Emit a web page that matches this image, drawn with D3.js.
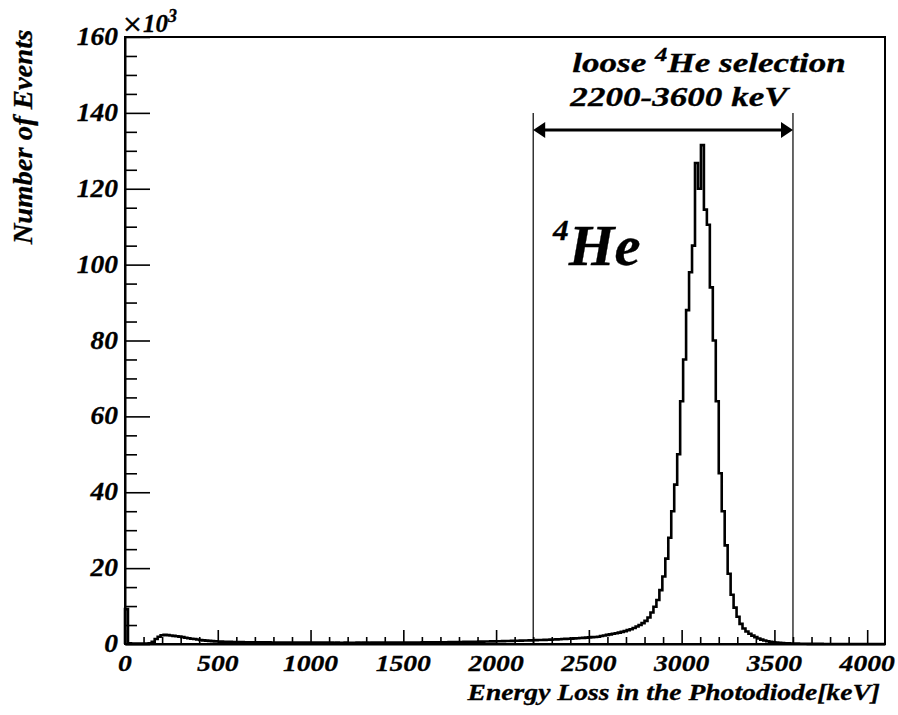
<!DOCTYPE html>
<html>
<head>
<meta charset="utf-8">
<script src="https://cdn.jsdelivr.net/npm/d3@7"></script>
<style>
  html, body { margin: 0; padding: 0; background: #fff; }
  svg text {
    font-family: "Liberation Serif", "Times New Roman", serif;
    font-weight: bold;
    font-style: italic;
    fill: #000;
    stroke: #000;
    stroke-width: 0.3px;
  }
  svg text tspan.times-sign {
    font-family: "DejaVu Serif", serif;
    font-style: normal;
    font-weight: normal;
  }
</style>
</head>
<body>
<svg id="chart" width="898" height="715"></svg>
<script>
// ---- data -------------------------------------------------------------
const binWidth = 16;                 // keV per histogram bin
const energyRange = [0, 4096];       // keV
const countRange = [0, 160];         // thousands of events

// events per bin (x10^3), bins of 16 keV starting at 0 keV
const counts = [
  9.2, 0.2, 0.1, 0.1, 0.1, 0.1, 0.1, 0.1, 0.2, 0.6, 1.3, 1.9, 2.3, 2.4, 2.35, 2.25,
  2.15, 2.05, 1.95, 1.8, 1.65, 1.5, 1.4, 1.3, 1.2, 1.05, 0.95, 0.88, 0.82, 0.76, 0.7, 0.66,
  0.63, 0.6, 0.58, 0.56, 0.54, 0.52, 0.5, 0.49, 0.48, 0.47, 0.46, 0.45, 0.44, 0.43, 0.43, 0.42,
  0.42, 0.41, 0.41, 0.40, 0.40, 0.39, 0.39, 0.38, 0.38, 0.38, 0.37, 0.37, 0.37, 0.36, 0.36, 0.36,
  0.36, 0.35, 0.36, 0.35, 0.35, 0.35, 0.34, 0.35, 0.34, 0.34, 0.35, 0.34, 0.34, 0.34, 0.35, 0.34,
  0.35, 0.35, 0.34, 0.35, 0.36, 0.35, 0.36, 0.36, 0.37, 0.36, 0.37, 0.37, 0.38, 0.38, 0.38, 0.39,
  0.39, 0.40, 0.40, 0.41, 0.42, 0.42, 0.43, 0.44, 0.44, 0.45, 0.46, 0.47, 0.48, 0.49, 0.50, 0.51,
  0.52, 0.53, 0.55, 0.56, 0.57, 0.59, 0.60, 0.62, 0.63, 0.65, 0.67, 0.68, 0.70, 0.72, 0.74, 0.76,
  0.78, 0.80, 0.82, 0.84, 0.86, 0.88, 0.91, 0.93, 0.96, 0.98, 1.01, 1.04, 1.07, 1.10, 1.13, 1.16,
  1.19, 1.22, 1.26, 1.30, 1.34, 1.38, 1.42, 1.47, 1.52, 1.57, 1.62, 1.68, 1.74, 1.80, 1.86, 1.93,
  2.1, 2.25, 2.4, 2.55, 2.7, 2.85, 3.0, 3.2, 3.4, 3.65, 3.9, 4.2, 4.6, 5.0, 5.5, 6.1,
  7.0, 8.3, 9.8, 11.6, 14.2, 17.8, 22.5, 28.0, 35.0, 42.0, 50.0, 64.0, 75.0, 88.0, 98.0, 105.0,
  126.8, 120.0, 131.5, 114.5, 110.5, 94.0, 80.0, 64.0, 45.0, 35.0, 26.0, 18.5, 13.0, 9.6, 7.2, 5.3,
  4.1, 3.3, 2.7, 2.2, 1.8, 1.45, 1.15, 0.92, 0.74, 0.6, 0.48, 0.39, 0.31, 0.25, 0.2, 0.16,
  0.13, 0.11, 0.09, 0.07, 0.06, 0.05, 0.04, 0.03, 0.03, 0.02, 0.02, 0.01, 0.01, 0.01, 0, 0,
  0, 0, 0, 0, 0, 0, 0, 0, 0, 0, 0, 0, 0, 0, 0, 0
];

const xMajorTicks = [0, 500, 1000, 1500, 2000, 2500, 3000, 3500, 4000];
const xMinorStep = 100;
const yMajorTicks = [0, 20, 40, 60, 80, 100, 120, 140, 160];
const yMinorStep = 5;

const selection = [2200, 3600];      // keV, loose 4He window

// ---- layout -----------------------------------------------------------
const frame = { left: 125, right: 885, top: 37, bottom: 644 };

const svg = d3.select("#chart");
const x = d3.scaleLinear().domain(energyRange).range([frame.left, frame.right]);
const y = d3.scaleLinear().domain(countRange).range([frame.bottom, frame.top]);

// text in a wide serif face: sx widens the glyphs along the reading direction
function label(parent, parts, px, py, size, anchor, sx, rotate) {
  const t = parent.append("text")
    .attr("transform", `translate(${px},${py})` + (rotate ? ` rotate(${rotate})` : "") + ` scale(${sx},1)`)
    .attr("text-anchor", anchor)
    .style("font-size", size + "px");
  parts.forEach(p => {
    const s = t.append("tspan").text(p.text);
    if (p.cls) s.attr("class", p.cls);
    if (p.size) s.style("font-size", p.size + "px");
    if (p.dy) s.attr("dy", p.dy);
  });
  return t;
}

// ---- axes ticks (drawn inward) ---------------------------------------
const xMinor = d3.range(0, 4000 + 1, xMinorStep).filter(v => v % 500 !== 0);
const yMinor = d3.range(0, 160 + 1, yMinorStep).filter(v => v % 20 !== 0);

const gx = svg.append("g").attr("transform", `translate(0,${frame.bottom})`);
gx.call(d3.axisBottom(x).tickValues(xMajorTicks).tickSizeInner(-14).tickSizeOuter(0).tickFormat(""));
gx.append("g").call(d3.axisBottom(x).tickValues(xMinor).tickSizeInner(-7).tickSizeOuter(0).tickFormat(""))
  .select(".domain").remove();

const gy = svg.append("g").attr("transform", `translate(${frame.left},0)`);
gy.call(d3.axisLeft(y).tickValues(yMajorTicks).tickSizeInner(-25).tickSizeOuter(0).tickFormat(""));
gy.append("g").call(d3.axisLeft(y).tickValues(yMinor).tickSizeInner(-12).tickSizeOuter(0).tickFormat(""))
  .select(".domain").remove();

svg.selectAll(".tick line").attr("stroke", "#000").attr("stroke-width", 1.6);
svg.selectAll(".domain").attr("stroke", "#000").attr("stroke-width", 2);

// frame
svg.append("rect")
  .attr("x", frame.left).attr("y", frame.top)
  .attr("width", frame.right - frame.left).attr("height", frame.bottom - frame.top)
  .attr("fill", "none").attr("stroke", "#000").attr("stroke-width", 2);

// ---- tick labels ------------------------------------------------------
xMajorTicks.forEach(v => label(svg, [{ text: String(v) }], x(v), 671, 24, "middle", 1.15));
yMajorTicks.forEach(v => label(svg, [{ text: String(v) }], 118, y(v) + 8, 25, "end", 1.1));

// axis multiplier
label(svg, [{ text: "\u00d7", cls: "times-sign", size: 25 }, { text: "10" }, { text: "3", size: 18, dy: -10 }],
  122, 32, 25, "start", 1.0);

// axis titles
label(svg, [{ text: "Energy Loss in the Photodiode[keV]" }], 880, 700, 24, "end", 1.15);
label(svg, [{ text: "Number of Events" }], 32, 137, 27, "middle", 1.06, -90);

// ---- histogram --------------------------------------------------------
const pts = [[0, 0]];
counts.forEach((c, i) => pts.push([i * binWidth, c]));
pts.push([counts.length * binWidth, 0]);

svg.append("path")
  .datum(pts)
  .attr("fill", "none")
  .attr("stroke", "#000")
  .attr("stroke-width", 2.6)
  .attr("stroke-linejoin", "miter")
  .attr("d", d3.line().x(d => x(d[0])).y(d => y(d[1])).curve(d3.curveStepAfter));

// ---- selection window -------------------------------------------------
const lineTop = 113, arrowY = 130;
selection.forEach(v => {
  svg.append("line")
    .attr("x1", x(v)).attr("x2", x(v))
    .attr("y1", lineTop).attr("y2", frame.bottom)
    .attr("stroke", "#000").attr("stroke-width", 1.2);
});

const ah = 12, aw = 8;
const xa = x(selection[0]), xb = x(selection[1]);
svg.append("line")
  .attr("x1", xa + ah - 1).attr("x2", xb - ah + 1)
  .attr("y1", arrowY).attr("y2", arrowY)
  .attr("stroke", "#000").attr("stroke-width", 3);
svg.append("path")
  .attr("d", `M${xa},${arrowY} L${xa + ah},${arrowY - aw} L${xa + ah},${arrowY + aw} Z`)
  .attr("fill", "#000");
svg.append("path")
  .attr("d", `M${xb},${arrowY} L${xb - ah},${arrowY - aw} L${xb - ah},${arrowY + aw} Z`)
  .attr("fill", "#000");

// ---- annotations ------------------------------------------------------
label(svg, [{ text: "loose " }, { text: "4", size: 19, dy: -11 }, { text: "He selection", dy: 11 }],
  709, 72, 27, "middle", 1.3);
label(svg, [{ text: `${selection[0]}-${selection[1]} keV` }], 679, 106, 27, "middle", 1.3);

label(svg, [{ text: "4", size: 30, dy: -25 }, { text: "He", dy: 25 }], 553, 265, 56, "start", 1.05);
</script>
</body>
</html>
